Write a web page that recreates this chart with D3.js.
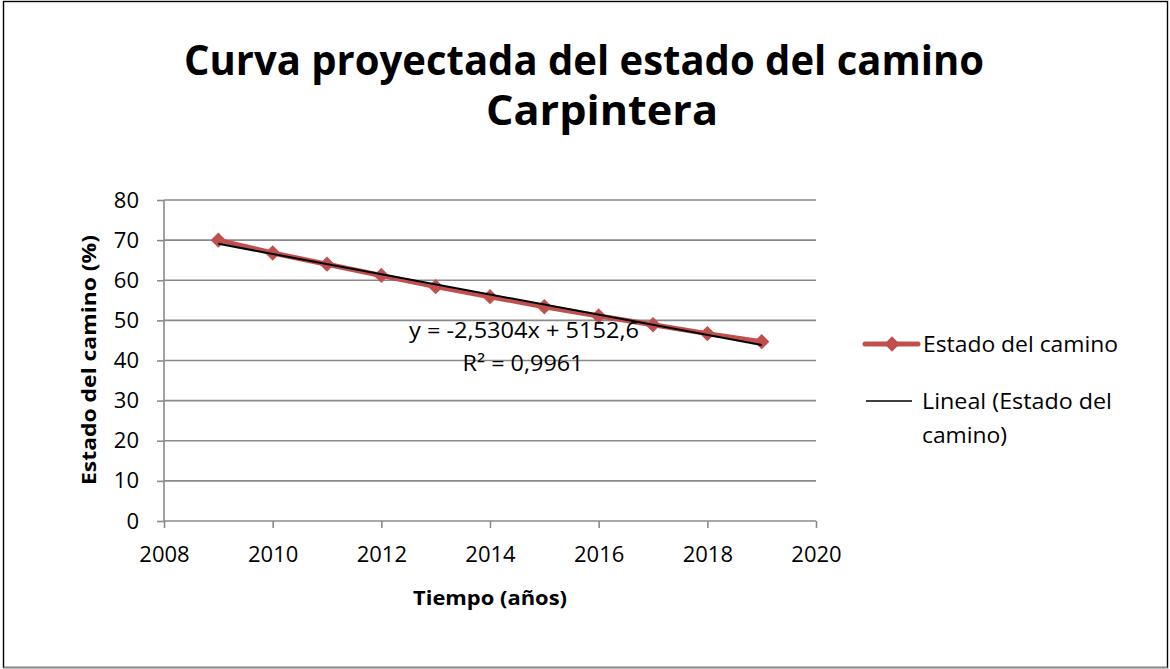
<!DOCTYPE html>
<html>
  <head>
    <style>
      body {
        margin: 0;
        background: #fff;
        font-family: "Open Sans", sans-serif;
      }
      .grid line {
        stroke: #8a8a8a;
        stroke-width: 1.6px;
      }
      .axis path, .axis line {
        stroke: #8a8a8a;
        stroke-width: 1.6px;
      }
      .axis text {
        font-family: "Open Sans", sans-serif;
        font-size: 22px;
        fill: #000;
      }
      .data-line {
        fill: none;
        stroke: #c0504d;
        stroke-width: 5px;
        stroke-linejoin: round;
      }
      .trend-line {
        fill: none;
        stroke: #000;
        stroke-width: 2px;
      }
    </style>
  </head>
  <body>
    <script src="https://d3js.org/d3.v7.min.js"></script>
    <script>
      // values
      var years = [2009, 2010, 2011, 2012, 2013, 2014, 2015, 2016, 2017, 2018, 2019];
      var estado = [70, 66.8, 64, 61.2, 58.4, 55.9, 53.4, 51.1, 48.9, 46.7, 44.7];
      var xTicks = [2008, 2010, 2012, 2014, 2016, 2018, 2020];
      var yTicks = [0, 10, 20, 30, 40, 50, 60, 70, 80];
      var titleLines = ["Curva proyectada del estado del camino", "Carpintera"];
      var equationLines = ["y = -2,5304x + 5152,6", "R\u00b2 = 0,9961"];
      var legendLabels = ["Estado del camino", "Lineal (Estado del", "camino)"];

      var W = 1170, H = 669;
      var svg = d3.select("body").append("svg")
        .attr("width", W)
        .attr("height", H);

      // chart frame
      svg.append("rect")
        .attr("x", 3.5).attr("y", 1.5)
        .attr("width", 1164).attr("height", 666)
        .attr("fill", "#fff")
        .attr("stroke", "#000")
        .attr("stroke-width", 1.4);
      svg.append("line")
        .attr("x1", 3.5).attr("x2", 1167.5)
        .attr("y1", 667.5).attr("y2", 667.5)
        .attr("stroke", "#8a8a8a").attr("stroke-width", 1.6);

      var xScale = d3.scaleLinear().domain([2008, 2020]).range([164, 816]);
      var yScale = d3.scaleLinear().domain([0, 80]).range([521, 200]);

      // horizontal gridlines
      svg.append("g")
        .attr("class", "grid")
        .selectAll("line")
        .data(yTicks.filter(d => d > 0))
        .enter().append("line")
          .attr("x1", xScale(2008)).attr("x2", xScale(2020))
          .attr("y1", d => yScale(d)).attr("y2", d => yScale(d));

      var yAxis = d3.axisLeft(yScale).tickValues(yTicks).tickSize(7).tickPadding(18);
      var xAxis = d3.axisBottom(xScale).tickValues(xTicks).tickFormat(d3.format("d")).tickSize(7).tickPadding(18);

      svg.append("g")
        .attr("class", "y axis")
        .attr("transform", "translate(" + xScale(2008) + ",0)")
        .call(yAxis)
        .call(g => g.select(".domain").attr("d", "M0," + yScale(0) + "V" + yScale(80)));

      svg.append("g")
        .attr("class", "x axis")
        .attr("transform", "translate(0," + yScale(0) + ")")
        .call(xAxis)
        .call(g => g.select(".domain").attr("d", "M" + xScale(2008) + ",0H" + xScale(2020)));

      var dots = years.map((y, i) => ({x: y, y: estado[i]}));

      var line = d3.line()
        .x(d => xScale(d.x))
        .y(d => yScale(d.y));

      svg.append("path")
        .attr("class", "data-line")
        .datum(dots)
        .attr("d", line);

      var diamond = d3.symbol().type(d3.symbolDiamond2).size(150);
      svg.append("g")
        .selectAll("path")
        .data(dots)
        .enter().append("path")
          .attr("d", diamond)
          .attr("fill", "#c0504d")
          .attr("transform", d => "translate(" + xScale(d.x) + "," + yScale(d.y) + ")");

      // linear trend from least squares
      var mx = d3.mean(years), my = d3.mean(estado);
      var sxy = d3.sum(years, (x, i) => (x - mx) * (estado[i] - my));
      var sxx = d3.sum(years, x => (x - mx) * (x - mx));
      var slope = sxy / sxx, icpt = my - slope * mx;
      var trend = [years[0], years[years.length - 1]].map(x => ({x: x, y: icpt + slope * x}));

      svg.append("path")
        .attr("class", "trend-line")
        .datum(trend)
        .attr("d", line);

      // trend equation
      svg.append("text")
        .attr("x", 524).attr("y", 338)
        .attr("text-anchor", "middle")
        .attr("font-size", 21)
        .attr("textLength", 230).attr("lengthAdjust", "spacingAndGlyphs")
        .text(equationLines[0]);
      svg.append("text")
        .attr("x", 523).attr("y", 371)
        .attr("text-anchor", "middle")
        .attr("font-size", 21)
        .attr("textLength", 121).attr("lengthAdjust", "spacingAndGlyphs")
        .text(equationLines[1]);

      // title
      svg.append("text")
        .attr("x", 584).attr("y", 75)
        .attr("text-anchor", "middle")
        .attr("font-weight", "bold")
        .attr("font-size", 41)
        .attr("textLength", 800).attr("lengthAdjust", "spacingAndGlyphs")
        .text(titleLines[0]);
      svg.append("text")
        .attr("x", 602).attr("y", 125)
        .attr("text-anchor", "middle")
        .attr("font-weight", "bold")
        .attr("font-size", 41)
        .attr("textLength", 232).attr("lengthAdjust", "spacingAndGlyphs")
        .text(titleLines[1]);

      // axis titles
      svg.append("text")
        .attr("x", 490).attr("y", 605)
        .attr("text-anchor", "middle")
        .attr("font-weight", "bold")
        .attr("font-size", 19)
        .attr("textLength", 154).attr("lengthAdjust", "spacingAndGlyphs")
        .text("Tiempo (años)");
      svg.append("text")
        .attr("transform", "translate(96,360) rotate(-90)")
        .attr("text-anchor", "middle")
        .attr("font-weight", "bold")
        .attr("font-size", 19)
        .attr("textLength", 250).attr("lengthAdjust", "spacingAndGlyphs")
        .text("Estado del camino (%)");

      // legend
      var lg = svg.append("g");
      lg.append("line")
        .attr("x1", 865).attr("x2", 918).attr("y1", 344).attr("y2", 344)
        .attr("stroke", "#c0504d").attr("stroke-width", 5).attr("stroke-linecap", "round");
      lg.append("path")
        .attr("d", diamond)
        .attr("fill", "#c0504d")
        .attr("transform", "translate(892,344)");
      lg.append("text")
        .attr("x", 923).attr("y", 352)
        .attr("font-size", 21)
        .attr("textLength", 195).attr("lengthAdjust", "spacingAndGlyphs")
        .text(legendLabels[0]);
      lg.append("line")
        .attr("x1", 866).attr("x2", 912).attr("y1", 401).attr("y2", 401)
        .attr("stroke", "#000").attr("stroke-width", 1.6);
      lg.append("text")
        .attr("x", 922).attr("y", 409)
        .attr("font-size", 21)
        .attr("textLength", 190).attr("lengthAdjust", "spacingAndGlyphs")
        .text(legendLabels[1]);
      lg.append("text")
        .attr("x", 922).attr("y", 443)
        .attr("font-size", 21)
        .attr("textLength", 85).attr("lengthAdjust", "spacingAndGlyphs")
        .text(legendLabels[2]);
    </script>
  </body>
</html>
